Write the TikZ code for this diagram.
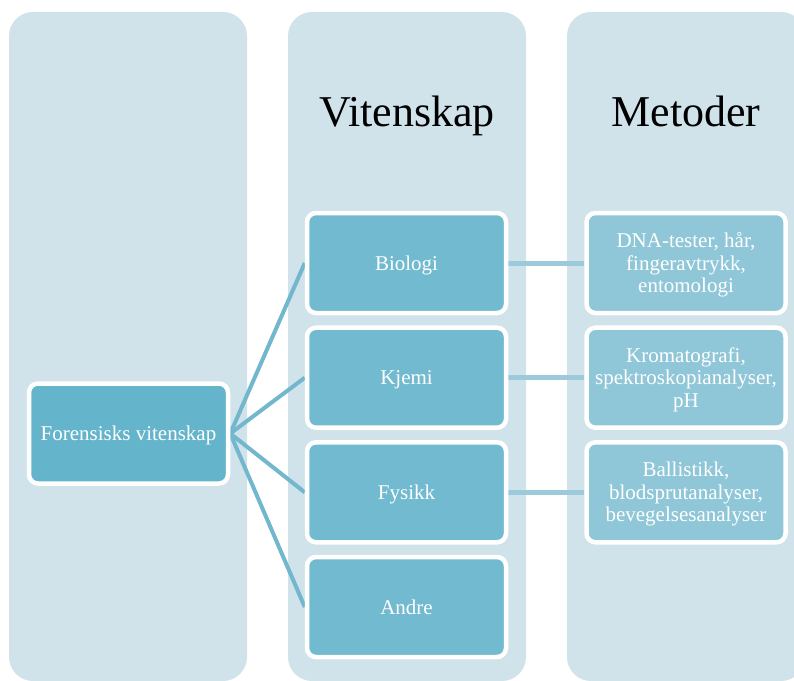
\documentclass[tikz,border=0pt]{standalone}
\usepackage{fontspec}
\setmainfont{Liberation Serif}
\pgfdeclarelayer{colbg}
\pgfdeclarelayer{links}
\pgfsetlayers{colbg,links,main}
\definecolor{lanebg}{HTML}{D0E2EA}
\definecolor{rootfill}{HTML}{64B5CB}
\definecolor{scifill}{HTML}{72BAD0}
\definecolor{methfill}{HTML}{8FC7D8}
\definecolor{linkleft}{HTML}{72B7CD}
\definecolor{linkright}{HTML}{9CCADA}
% box label set a little below the optical centre
\newcommand{\boxlabel}[1]{\raisebox{-2.5pt}[\height][\depth]{\begin{tabular}{@{}c@{}}#1\end{tabular}}}
\tikzset{
  lane/.style={fill=lanebg, rounded corners=24pt},
  box/.style={draw=white, line width=4.5pt, rounded corners=9pt,
    minimum width=199pt, minimum height=100pt, align=center,
    text=white, font=\fontsize{21}{22.5}\selectfont, inner sep=2pt},
  rootbox/.style={box, fill=rootfill},
  scibox/.style={box, fill=scifill},
  methbox/.style={box, fill=methfill},
  heading/.style={anchor=base, font=\fontsize{44}{48}\selectfont, text=black},
  fanlink/.style={draw=linkleft, line width=4pt},
  rowlink/.style={draw=linkright, line width=5pt}
}
\begin{document}
\begin{tikzpicture}[x=1pt, y=-1pt]
  \useasboundingbox (0,0) rectangle (794,680);
  \clip (0,0) rectangle (794,680);

  % three lanes
  \begin{pgfonlayer}{colbg}
    \fill[lane] (9,12) rectangle (247,681);
    \fill[lane] (288,12) rectangle (526,681);
    \fill[lane] (567,12) rectangle (805,681);
  \end{pgfonlayer}

  % lane headings
  \node[heading] (hsci) at (407,126) {Vitenskap};
  \node[heading] (hmeth) at (686,126) {Metoder};

  % boxes
  \node[rootbox] (root) at (128.5,433.5) {\boxlabel{Forensisks vitenskap}};

  \node[scibox] (bio) at (406.5,263) {\boxlabel{Biologi}};
  \node[scibox] (kje) at (406.5,377.7) {\boxlabel{Kjemi}};
  \node[scibox] (fys) at (406.5,492.3) {\boxlabel{Fysikk}};
  \node[scibox] (and) at (406.5,607) {\boxlabel{Andre}};

  \node[methbox] (mbio) at (686,263) {\boxlabel{DNA-tester, hår,\\fingeravtrykk,\\entomologi}};
  \node[methbox] (mkje) at (686,377.7) {\boxlabel{Kromatografi,\\spektroskopianalyser,\\pH}};
  \node[methbox] (mfys) at (686,492.3) {\boxlabel{Ballistikk,\\blodsprutanalyser,\\bevegelsesanalyser}};

  % connectors
  \begin{pgfonlayer}{links}
    \foreach \t in {bio,kje,fys,and}
      \draw[fanlink] (root.east) -- (\t.west);
    \draw[rowlink] (bio.east) -- (mbio.west);
    \draw[rowlink] (kje.east) -- (mkje.west);
    \draw[rowlink] (fys.east) -- (mfys.west);
  \end{pgfonlayer}
\end{tikzpicture}
\end{document}
